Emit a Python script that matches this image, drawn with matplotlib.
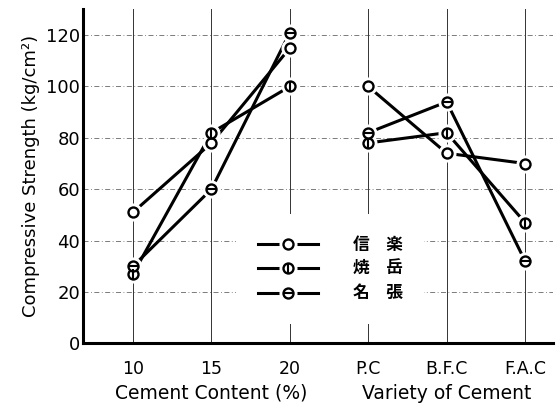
import matplotlib
matplotlib.use("Agg")
import matplotlib.pyplot as plt
import numpy as np
from matplotlib.lines import Line2D
from matplotlib.legend_handler import HandlerTuple

plt.rcParams['font.family'] = ['DejaVu Sans', 'Noto Sans CJK JP']

# ---- data ----
tick_labels = ["10", "15", "20", "P.C", "B.F.C", "F.A.C"]
series_names = ["信　楽", "焼　岳", "名　張"]
shigaraki = [51, 78, 115, 100, 74, 70]
yakedake = [27, 82, 100, 78, 82, 47]
nabari = [30, 60, 121, 82, 94, 32]
y_ticks = [0, 20, 40, 60, 80, 100, 120]
series = [shigaraki, yakedake, nabari]
bars = ['none', '|', '_']  # marker overlays: plain, vertical bar, horizontal bar

fig = plt.figure(figsize=(5.6, 4.12), dpi=100)
ax = fig.add_axes([0.148, 0.167, 0.84, 0.81])

x = np.arange(len(tick_labels))
ax.set_xlim(-0.64, 5.36)
ax.set_ylim(0, 130)

# grid
for yv in y_ticks[1:]:
    ax.axhline(yv, color='#666666', lw=0.6, ls=(0, (6, 3, 1, 3)), zorder=1)
for xv in x:
    ax.axvline(xv, color='#333333', lw=0.7, zorder=1)

groups = [slice(0, 3), slice(3, 6)]
for vals, ov in zip(series, bars):
    v = np.array(vals, dtype=float)
    for g in groups:
        ax.plot(x[g], v[g], color='black', lw=2.2, solid_capstyle='butt', zorder=2)
    ax.plot(x, v, ls='none', marker='o', ms=12, mfc='white', mec='white', zorder=3)
    ax.plot(x, v, ls='none', marker='o', ms=7.2, mfc='white', mec='black', mew=1.7, zorder=4)
    if ov != 'none':
        ax.plot(x, v, ls='none', marker=ov, ms=7.2, mec='black', mew=1.5, zorder=5)

# legend
handles = []
for ov in bars:
    parts = [Line2D([], [], color='black', lw=2.2),
             Line2D([], [], ls='none', marker='o', ms=12, mfc='white', mec='white'),
             Line2D([], [], ls='none', marker='o', ms=7.2, mfc='white', mec='black', mew=1.7)]
    if ov != 'none':
        parts.append(Line2D([], [], ls='none', marker=ov, ms=7.2, mec='black', mew=1.5))
    handles.append(tuple(parts))
leg = ax.legend(handles, series_names, handler_map={tuple: HandlerTuple(ndivide=1, pad=0)},
                frameon=True, fancybox=False, framealpha=1,
                loc='center left', bbox_to_anchor=(0.326, 0.222),
                borderpad=1.3, borderaxespad=0,
                handlelength=3.6, handletextpad=2.1, labelspacing=0.38,
                prop={'family': 'Noto Sans CJK JP', 'size': 12, 'weight': 'bold'})
leg.get_frame().set_facecolor('white')
leg.get_frame().set_edgecolor('none')
leg.set_zorder(6)

for s in ['top', 'right']:
    ax.spines[s].set_visible(False)
for s in ['left', 'bottom']:
    ax.spines[s].set_linewidth(2.2)

ax.set_xticks(x)
ax.set_xticklabels(tick_labels, fontsize=12.5)
ax.set_yticks(y_ticks)
ax.set_yticklabels([str(t) for t in y_ticks], fontsize=13)
ax.tick_params(length=0)
ax.tick_params(axis='y', pad=2)
ax.tick_params(axis='x', pad=12)

ax.set_ylabel("Compressive Strength (kg/cm²)", fontsize=13, labelpad=4)
ax.text(1, -0.15, "Cement Content (%)", transform=ax.get_xaxis_transform(),
        ha='center', va='center', fontsize=13.5)
ax.text(4, -0.15, "Variety of Cement", transform=ax.get_xaxis_transform(),
        ha='center', va='center', fontsize=13.5)

fig.savefig("out.png", dpi=100)
